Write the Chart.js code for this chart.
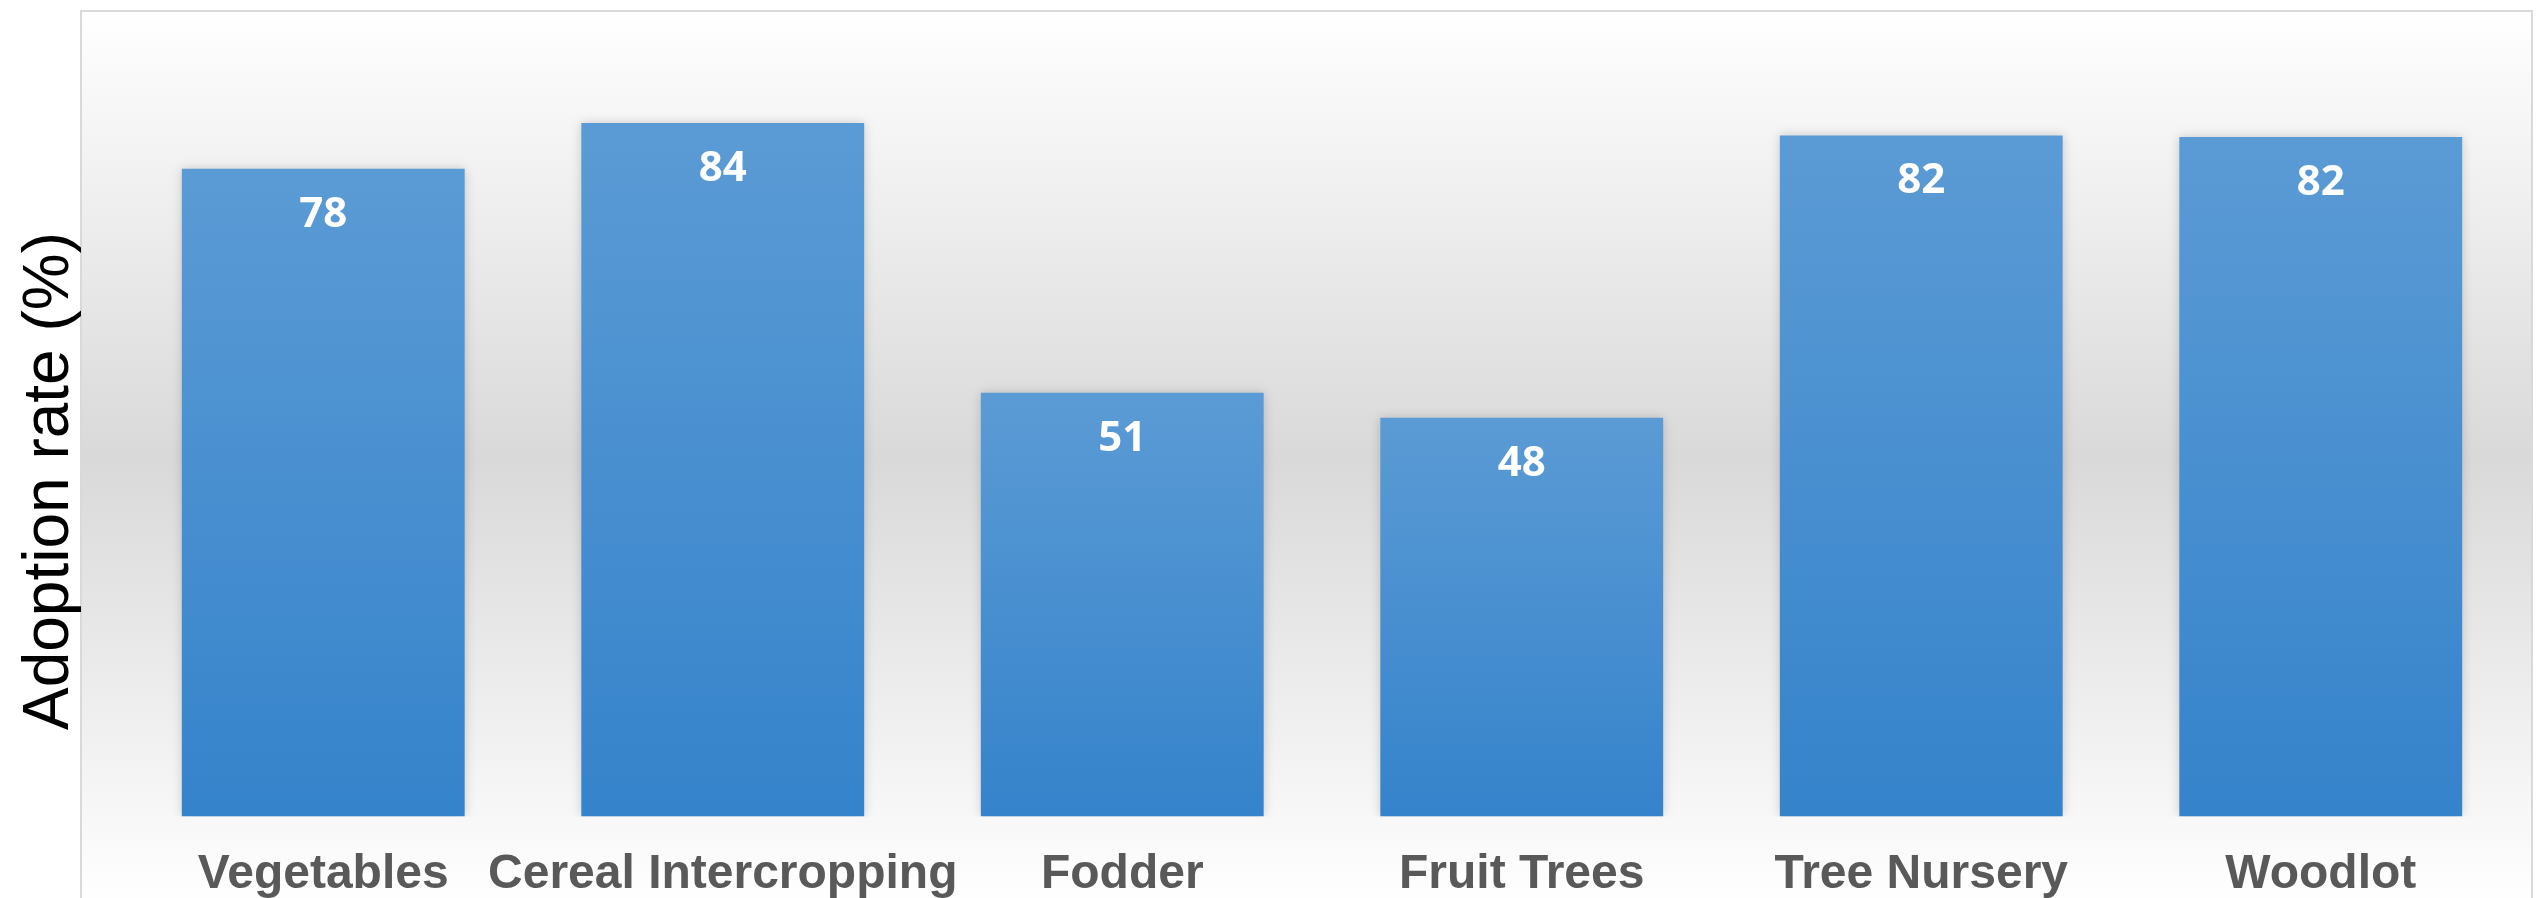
<!DOCTYPE html>
<html>
<head>
<meta charset="utf-8">
<script src="https://cdn.jsdelivr.net/npm/chart.js@4"></script>
<style>
html,body{margin:0;padding:0;background:#fff;}
#wrap{width:2542px;height:898px;position:relative;}
</style>
</head>
<body>
<div id="wrap"><canvas id="c" width="2542" height="898"></canvas></div>
<script>
const categories = ["Vegetables", "Cereal Intercropping", "Fodder", "Fruit Trees", "Tree Nursery", "Woodlot"];
const adoptionRate = [78, 83.5, 51, 48, 82, 81.8];
const yAxisTitle = "Adoption rate (%)";
const yMin = 0;
const yMax = 90;

const framePlugin = {
  id: 'frame',
  beforeDraw(chart) {
    const ctx = chart.ctx;
    const x0 = 81, y0 = 11, x1 = 2532, y1 = 905;
    ctx.save();
    const g = ctx.createLinearGradient(0, y0, 0, y1);
    g.addColorStop(0, '#ffffff');
    g.addColorStop(0.5, '#d9d9d9');
    g.addColorStop(1, '#ffffff');
    ctx.fillStyle = g;
    ctx.fillRect(x0, y0, x1 - x0, y1 - y0);
    ctx.strokeStyle = '#d9d9d9';
    ctx.lineWidth = 2;
    ctx.strokeRect(x0, y0, x1 - x0, y1 - y0);
    ctx.restore();
    // y-axis title
    ctx.save();
    ctx.translate(50, 481);
    ctx.rotate(-Math.PI / 2);
    ctx.fillStyle = '#000000';
    ctx.font = '64px "Liberation Sans", Arial, sans-serif';
    ctx.textAlign = 'center';
    ctx.textBaseline = 'middle';
    ctx.fillText(yAxisTitle, 0, 0);
    ctx.restore();
  },
  beforeDatasetsDraw(chart) {
    const ctx = chart.ctx;
    ctx.save();
    ctx.shadowColor = 'rgba(0,0,0,0.18)';
    ctx.shadowBlur = 10;
    ctx.shadowOffsetX = 0;
    ctx.shadowOffsetY = 0;
  },
  afterDatasetsDraw(chart) {
    const ctx = chart.ctx;
    ctx.restore();
    const meta = chart.getDatasetMeta(0);
    ctx.save();
    ctx.fillStyle = '#ffffff';
    ctx.font = 'bold 42px "Open Sans", sans-serif';
    ctx.textAlign = 'center';
    ctx.textBaseline = 'middle';
    meta.data.forEach((bar, i) => {
      ctx.fillText(String(Math.round(adoptionRate[i])), bar.x, bar.y + 46);
    });
    ctx.restore();
  }
};

new Chart(document.getElementById('c'), {
  type: 'bar',
  data: {
    labels: categories,
    datasets: [{
      data: adoptionRate,
      backgroundColor(ctx) {
        const chart = ctx.chart;
        if (!chart.chartArea || ctx.type !== 'data') return '#4a8fd1';
        const ys = chart.scales.y;
        const top = ys.getPixelForValue(ctx.raw);
        const bot = ys.getPixelForValue(0);
        if (!isFinite(top) || !isFinite(bot) || top === bot) return '#4a8fd1';
        const g = chart.ctx.createLinearGradient(0, top, 0, bot);
        g.addColorStop(0, '#5b9bd5');
        g.addColorStop(1, '#3583cb');
        return g;
      },
      borderWidth: 0,
      categoryPercentage: 1.0,
      barPercentage: 0.708
    }]
  },
  options: {
    responsive: false,
    animation: false,
    devicePixelRatio: 1,
    layout: { padding: { left: 123.5, right: 21.5, top: 69, bottom: -36 } },
    plugins: { legend: { display: false }, tooltip: { enabled: false } },
    scales: {
      x: {
        grid: { display: false, drawTicks: false },
        border: { display: false },
        ticks: {
          color: '#595959',
          font: { family: '"Liberation Sans", Arial, sans-serif', size: 48, weight: 'bold' },
          padding: 30,
          maxRotation: 0,
          autoSkip: false
        }
      },
      y: {
        display: false,
        min: yMin,
        max: yMax
      }
    }
  },
  plugins: [framePlugin]
});
</script>
</body>
</html>
